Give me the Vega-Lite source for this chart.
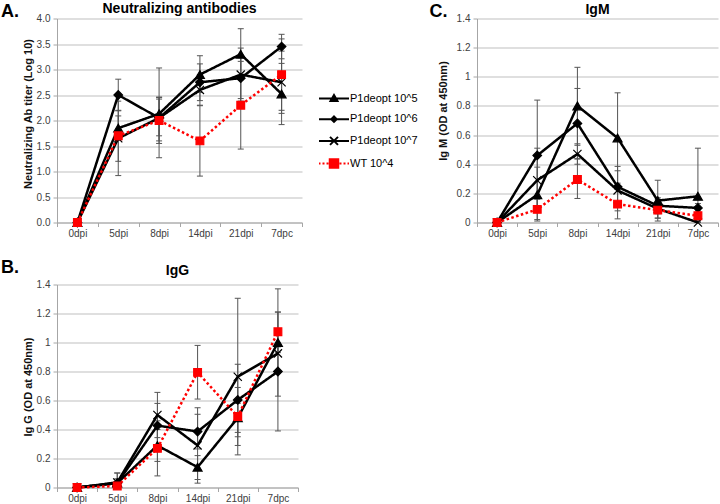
{
  "$schema": "https://vega.github.io/schema/vega-lite/v6.json",
  "padding": {"top": 1.5, "left": 0, "right": 0, "bottom": 0},
  "background": "white",
  "config": {
    "font": "Liberation Sans",
    "view": {"stroke": null},
    "axis": {"labelFont": "Liberation Sans", "labelFontSize": 10, "labelColor": "#404040", "titleFont": "Liberation Sans", "titleFontSize": 11, "titleFontWeight": "bold", "titleColor": "#111111", "domainColor": "#a6a6a6", "tickColor": "#a6a6a6", "tickSize": 4, "gridColor": "#bfbfbf", "gridWidth": 1},
    "axisX": {"grid": false, "labelAngle": 0, "labelPadding": 2},
    "axisY": {"grid": true, "labelPadding": 3, "titlePadding": 3},
    "title": {"font": "Liberation Sans", "fontSize": 14, "fontWeight": "bold", "color": "#000000"},
    "legend": {"labelFont": "Liberation Sans", "labelFontSize": 11, "labelColor": "#000000", "labelLimit": 200}
  },
  "datasets": {
    "neut": [
      {"day": "0dpi", "series": "P1deopt 10^5", "value": 0, "lo": null, "hi": null},
      {"day": "5dpi", "series": "P1deopt 10^5", "value": 1.85, "lo": 1.61, "hi": 2.09},
      {"day": "8dpi", "series": "P1deopt 10^5", "value": 2.13, "lo": 1.27, "hi": 3.03},
      {"day": "14dpi", "series": "P1deopt 10^5", "value": 2.9, "lo": 2.55, "hi": 3.27},
      {"day": "21dpi", "series": "P1deopt 10^5", "value": 3.3, "lo": 2.8, "hi": 3.8},
      {"day": "7dpc", "series": "P1deopt 10^5", "value": 2.52, "lo": 1.92, "hi": 3.12},
      {"day": "0dpi", "series": "P1deopt 10^6", "value": 0, "lo": null, "hi": null},
      {"day": "5dpi", "series": "P1deopt 10^6", "value": 2.5, "lo": 2.19, "hi": 2.81},
      {"day": "8dpi", "series": "P1deopt 10^6", "value": 2.05, "lo": 1.7, "hi": 2.42},
      {"day": "14dpi", "series": "P1deopt 10^6", "value": 2.75, "lo": 2.39, "hi": 3.11},
      {"day": "21dpi", "series": "P1deopt 10^6", "value": 2.83, "lo": 2.43, "hi": 3.23},
      {"day": "7dpc", "series": "P1deopt 10^6", "value": 3.45, "lo": 3.21, "hi": 3.69},
      {"day": "0dpi", "series": "P1deopt 10^7", "value": 0, "lo": null, "hi": null},
      {"day": "5dpi", "series": "P1deopt 10^7", "value": 1.65, "lo": 0.92, "hi": 2.38},
      {"day": "8dpi", "series": "P1deopt 10^7", "value": 2.05, "lo": 1.6, "hi": 2.46},
      {"day": "14dpi", "series": "P1deopt 10^7", "value": 2.6, "lo": 2.3, "hi": 2.9},
      {"day": "21dpi", "series": "P1deopt 10^7", "value": 2.9, "lo": 2.38, "hi": 3.42},
      {"day": "7dpc", "series": "P1deopt 10^7", "value": 2.75, "lo": 2.14, "hi": 3.36},
      {"day": "0dpi", "series": "WT 10^4", "value": 0, "lo": null, "hi": null},
      {"day": "5dpi", "series": "WT 10^4", "value": 1.7, "lo": 1.2, "hi": 2.2},
      {"day": "8dpi", "series": "WT 10^4", "value": 2.0, "lo": 1.55, "hi": 2.45},
      {"day": "14dpi", "series": "WT 10^4", "value": 1.6, "lo": 0.91, "hi": 2.29},
      {"day": "21dpi", "series": "WT 10^4", "value": 2.3, "lo": 1.44, "hi": 3.16},
      {"day": "7dpc", "series": "WT 10^4", "value": 2.9, "lo": 2.2, "hi": 3.6}
    ],
    "igm": [
      {"day": "0dpi", "series": "P1deopt 10^5", "value": 0, "lo": null, "hi": null},
      {"day": "5dpi", "series": "P1deopt 10^5", "value": 0.19, "lo": 0.01, "hi": 0.38},
      {"day": "8dpi", "series": "P1deopt 10^5", "value": 0.8, "lo": 0.53, "hi": 1.065},
      {"day": "14dpi", "series": "P1deopt 10^5", "value": 0.58, "lo": 0.27, "hi": 0.89},
      {"day": "21dpi", "series": "P1deopt 10^5", "value": 0.15, "lo": 0.01, "hi": 0.29},
      {"day": "7dpc", "series": "P1deopt 10^5", "value": 0.18, "lo": 0.0, "hi": 0.51},
      {"day": "0dpi", "series": "P1deopt 10^6", "value": 0, "lo": null, "hi": null},
      {"day": "5dpi", "series": "P1deopt 10^6", "value": 0.46, "lo": 0.08, "hi": 0.84},
      {"day": "8dpi", "series": "P1deopt 10^6", "value": 0.68, "lo": 0.44, "hi": 0.92},
      {"day": "14dpi", "series": "P1deopt 10^6", "value": 0.245, "lo": 0.105, "hi": 0.385},
      {"day": "21dpi", "series": "P1deopt 10^6", "value": 0.115, "lo": 0.06, "hi": 0.17},
      {"day": "7dpc", "series": "P1deopt 10^6", "value": 0.1, "lo": 0.07, "hi": 0.13},
      {"day": "0dpi", "series": "P1deopt 10^7", "value": 0, "lo": null, "hi": null},
      {"day": "5dpi", "series": "P1deopt 10^7", "value": 0.29, "lo": 0.07, "hi": 0.51},
      {"day": "8dpi", "series": "P1deopt 10^7", "value": 0.47, "lo": 0.4, "hi": 0.54},
      {"day": "14dpi", "series": "P1deopt 10^7", "value": 0.22, "lo": 0.08, "hi": 0.355},
      {"day": "21dpi", "series": "P1deopt 10^7", "value": 0.095, "lo": 0.03, "hi": 0.16},
      {"day": "7dpc", "series": "P1deopt 10^7", "value": 0.0, "lo": 0.0, "hi": 0.01},
      {"day": "0dpi", "series": "WT 10^4", "value": 0, "lo": null, "hi": null},
      {"day": "5dpi", "series": "WT 10^4", "value": 0.09, "lo": 0.02, "hi": 0.16},
      {"day": "8dpi", "series": "WT 10^4", "value": 0.295, "lo": 0.165, "hi": 0.435},
      {"day": "14dpi", "series": "WT 10^4", "value": 0.126, "lo": 0.025, "hi": 0.226},
      {"day": "21dpi", "series": "WT 10^4", "value": 0.085, "lo": 0.03, "hi": 0.14},
      {"day": "7dpc", "series": "WT 10^4", "value": 0.046, "lo": 0.01, "hi": 0.08}
    ],
    "igg": [
      {"day": "0dpi", "series": "P1deopt 10^5", "value": 0, "lo": null, "hi": null},
      {"day": "5dpi", "series": "P1deopt 10^5", "value": 0.03, "lo": 0.0, "hi": 0.1},
      {"day": "8dpi", "series": "P1deopt 10^5", "value": 0.29, "lo": 0.18, "hi": 0.4},
      {"day": "14dpi", "series": "P1deopt 10^5", "value": 0.14, "lo": 0.055, "hi": 0.22},
      {"day": "21dpi", "series": "P1deopt 10^5", "value": 0.48, "lo": 0.38, "hi": 0.58},
      {"day": "7dpc", "series": "P1deopt 10^5", "value": 1.0, "lo": 0.79, "hi": 1.21},
      {"day": "0dpi", "series": "P1deopt 10^6", "value": 0, "lo": null, "hi": null},
      {"day": "5dpi", "series": "P1deopt 10^6", "value": 0.03, "lo": 0.0, "hi": 0.06},
      {"day": "8dpi", "series": "P1deopt 10^6", "value": 0.427, "lo": 0.28, "hi": 0.58},
      {"day": "14dpi", "series": "P1deopt 10^6", "value": 0.386, "lo": 0.266, "hi": 0.505},
      {"day": "21dpi", "series": "P1deopt 10^6", "value": 0.604, "lo": 0.35, "hi": 0.85},
      {"day": "7dpc", "series": "P1deopt 10^6", "value": 0.8, "lo": 0.63, "hi": 0.97},
      {"day": "0dpi", "series": "P1deopt 10^7", "value": 0, "lo": null, "hi": null},
      {"day": "5dpi", "series": "P1deopt 10^7", "value": 0.035, "lo": 0.0, "hi": 0.1},
      {"day": "8dpi", "series": "P1deopt 10^7", "value": 0.5, "lo": 0.344, "hi": 0.656},
      {"day": "14dpi", "series": "P1deopt 10^7", "value": 0.29, "lo": 0.03, "hi": 0.55},
      {"day": "21dpi", "series": "P1deopt 10^7", "value": 0.764, "lo": 0.225, "hi": 1.305},
      {"day": "7dpc", "series": "P1deopt 10^7", "value": 0.925, "lo": 0.39, "hi": 1.37},
      {"day": "0dpi", "series": "WT 10^4", "value": 0, "lo": null, "hi": null},
      {"day": "5dpi", "series": "WT 10^4", "value": 0.01, "lo": 0.0, "hi": 0.03},
      {"day": "8dpi", "series": "WT 10^4", "value": 0.27, "lo": 0.08, "hi": 0.46},
      {"day": "14dpi", "series": "WT 10^4", "value": 0.794, "lo": 0.61, "hi": 0.98},
      {"day": "21dpi", "series": "WT 10^4", "value": 0.489, "lo": 0.29, "hi": 0.69},
      {"day": "7dpc", "series": "WT 10^4", "value": 1.074, "lo": 0.93, "hi": 1.21}
    ]
  },
  "resolve": {"scale": {"color": "independent"}},
  "spacing": 19,
  "vconcat": [
    {
      "spacing": 11,
      "resolve": {"scale": {"color": "independent"}},
      "hconcat": [
        {
          "width": 245,
          "height": 204,
          "title": {"text": "Neutralizing antibodies", "offset": -13.5},
          "data": {"name": "neut"},
          "encoding": {
            "x": {"field": "day", "type": "ordinal", "sort": ["0dpi", "5dpi", "8dpi", "14dpi", "21dpi", "7dpc"], "scale": {"type": "band", "paddingInner": 0, "paddingOuter": 0},
              "axis": {"title": "A.", "tickBand": "extent", "titleX": -56.5, "titleY": -220, "titleAngle": 0, "titleAlign": "left", "titleBaseline": "top", "titleFontSize": 18, "titleFontWeight": "bold", "titleColor": "#000000"}}
          },
          "layer": [
            {"mark": {"type": "rule", "color": "#555555", "strokeWidth": 1},
             "encoding": {"y": {"field": "lo", "type": "quantitative", "scale": {"domain": [0, 4], "nice": false}, "axis": {"title": "Neutralizing Ab titer (Log 10)", "titleX": -24, "titleY": 95, "values": [0, 0.5, 1, 1.5, 2, 2.5, 3, 3.5, 4], "format": ".1f"}}, "y2": {"field": "hi"}}},
            {"mark": {"type": "tick", "color": "#555555", "size": 6, "thickness": 1, "opacity": 1},
             "encoding": {"y": {"field": "hi", "type": "quantitative", "scale": {"domain": [0, 4], "nice": false}, "axis": {"title": "Neutralizing Ab titer (Log 10)", "titleX": -24, "titleY": 95, "values": [0, 0.5, 1, 1.5, 2, 2.5, 3, 3.5, 4], "format": ".1f"}}}},
            {"mark": {"type": "tick", "color": "#555555", "size": 6, "thickness": 1, "opacity": 1},
             "encoding": {"y": {"field": "lo", "type": "quantitative", "scale": {"domain": [0, 4], "nice": false}, "axis": {"title": "Neutralizing Ab titer (Log 10)", "titleX": -24, "titleY": 95, "values": [0, 0.5, 1, 1.5, 2, 2.5, 3, 3.5, 4], "format": ".1f"}}}},
            {"mark": {"type": "line", "strokeWidth": 2.5},
             "encoding": {
               "y": {"field": "value", "type": "quantitative", "scale": {"domain": [0, 4], "nice": false}, "axis": {"title": "Neutralizing Ab titer (Log 10)", "titleX": -24, "titleY": 95, "values": [0, 0.5, 1, 1.5, 2, 2.5, 3, 3.5, 4], "format": ".1f"}},
               "color": {"field": "series", "type": "nominal", "scale": {"domain": ["P1deopt 10^5", "P1deopt 10^6", "P1deopt 10^7", "WT 10^4"], "range": ["#000000", "#000000", "#000000", "#ff0000"]},
                 "legend": {"title": null, "orient": "none", "legendX": 274, "legendY": 70.5, "padding": 0, "symbolSize": 289, "symbolStrokeWidth": 2, "rowPadding": 4.7, "labelOffset": 0,
                   "encode": {"symbols": {"update": {
                     "shape": {"signal": "datum.value == 'P1deopt 10^5' ? 'M-2.529,0H1M-0.765,-0.41L-0.355,0.29L-1.175,0.29Z' : datum.value == 'P1deopt 10^6' ? 'M-2.529,0H1M-0.765,-0.32L-0.445,0L-0.765,0.32L-1.085,0Z' : datum.value == 'P1deopt 10^7' ? 'M-2.529,0H1M-1.235,-0.47L-0.295,0.47M-1.235,0.47L-0.295,-0.47' : 'M-2.529,0H-2.353M-2.118,0H-1.882M-1.647,0H-1.412M-0.118,0H0.118M0.353,0H0.588M0.824,0H1M-1.265,-0.5H-0.265V0.5H-1.265Z'"},
                     "fill": {"signal": "datum.value == 'WT 10^4' ? '#ff0000' : '#000000'"},
                     "stroke": {"signal": "datum.value == 'WT 10^4' ? '#ff0000' : '#000000'"},
                     "strokeDash": {"value": []},
                     "strokeWidth": {"value": 2},
                     "opacity": {"value": 1}
                   }}}}},
               "strokeDash": {"field": "series", "type": "nominal", "scale": {"domain": ["P1deopt 10^5", "P1deopt 10^6", "P1deopt 10^7", "WT 10^4"], "range": [[1, 0], [1, 0], [1, 0], [2.5, 2.5]]}, "legend": null}
             }},
            {"mark": {"type": "point", "filled": true, "opacity": 1, "strokeWidth": 1.2},
             "encoding": {
               "y": {"field": "value", "type": "quantitative", "scale": {"domain": [0, 4], "nice": false}, "axis": {"title": "Neutralizing Ab titer (Log 10)", "titleX": -24, "titleY": 95, "values": [0, 0.5, 1, 1.5, 2, 2.5, 3, 3.5, 4], "format": ".1f"}},
               "shape": {"field": "series", "type": "nominal", "scale": {"domain": ["P1deopt 10^5", "P1deopt 10^6", "P1deopt 10^7", "WT 10^4"], "range": ["triangle-up", "diamond", "M-1,-1L1,1M-1,1L1,-1", "square"]}, "legend": null},
               "size": {"field": "series", "type": "nominal", "scale": {"domain": ["P1deopt 10^5", "P1deopt 10^6", "P1deopt 10^7", "WT 10^4"], "range": [80, 60, 64, 100]}, "legend": null},
               "fill": {"field": "series", "type": "nominal", "scale": {"domain": ["P1deopt 10^5", "P1deopt 10^6", "P1deopt 10^7", "WT 10^4"], "range": ["#000000", "#000000", "#000000", "#ff0000"]}, "legend": null},
               "stroke": {"field": "series", "type": "nominal", "scale": {"domain": ["P1deopt 10^5", "P1deopt 10^6", "P1deopt 10^7", "WT 10^4"], "range": ["#000000", "#000000", "#000000", "#ff0000"]}, "legend": null}
             }}
          ]
        },
        {
          "width": 241,
          "height": 204,
          "title": {"text": "IgM", "offset": -14.5},
          "data": {"name": "igm"},
          "encoding": {
            "x": {"field": "day", "type": "ordinal", "sort": ["0dpi", "5dpi", "8dpi", "14dpi", "21dpi", "7dpc"], "scale": {"type": "band", "paddingInner": 0, "paddingOuter": 0},
              "axis": {"title": "C.", "tickBand": "extent", "titleX": -48, "titleY": -220, "titleAngle": 0, "titleAlign": "left", "titleBaseline": "top", "titleFontSize": 18, "titleFontWeight": "bold", "titleColor": "#000000"}}
          },
          "layer": [
            {"mark": {"type": "rule", "color": "#555555", "strokeWidth": 1},
             "encoding": {"y": {"field": "lo", "type": "quantitative", "scale": {"domain": [0, 1.4], "nice": false}, "axis": {"title": "Ig M (OD at 450nm)", "titleX": -29, "titleY": 92, "values": [0, 0.2, 0.4, 0.6, 0.8, 1, 1.2, 1.4], "format": "~g"}}, "y2": {"field": "hi"}}},
            {"mark": {"type": "tick", "color": "#555555", "size": 6, "thickness": 1, "opacity": 1},
             "encoding": {"y": {"field": "hi", "type": "quantitative", "scale": {"domain": [0, 1.4], "nice": false}, "axis": {"title": "Ig M (OD at 450nm)", "titleX": -29, "titleY": 92, "values": [0, 0.2, 0.4, 0.6, 0.8, 1, 1.2, 1.4], "format": "~g"}}}},
            {"mark": {"type": "tick", "color": "#555555", "size": 6, "thickness": 1, "opacity": 1},
             "encoding": {"y": {"field": "lo", "type": "quantitative", "scale": {"domain": [0, 1.4], "nice": false}, "axis": {"title": "Ig M (OD at 450nm)", "titleX": -29, "titleY": 92, "values": [0, 0.2, 0.4, 0.6, 0.8, 1, 1.2, 1.4], "format": "~g"}}}},
            {"mark": {"type": "line", "strokeWidth": 2.5},
             "encoding": {
               "y": {"field": "value", "type": "quantitative", "scale": {"domain": [0, 1.4], "nice": false}, "axis": {"title": "Ig M (OD at 450nm)", "titleX": -29, "titleY": 92, "values": [0, 0.2, 0.4, 0.6, 0.8, 1, 1.2, 1.4], "format": "~g"}},
               "color": {"field": "series", "type": "nominal", "scale": {"domain": ["P1deopt 10^5", "P1deopt 10^6", "P1deopt 10^7", "WT 10^4"], "range": ["#000000", "#000000", "#000000", "#ff0000"]}, "legend": null},
               "strokeDash": {"field": "series", "type": "nominal", "scale": {"domain": ["P1deopt 10^5", "P1deopt 10^6", "P1deopt 10^7", "WT 10^4"], "range": [[1, 0], [1, 0], [1, 0], [2.5, 2.5]]}, "legend": null}
             }},
            {"mark": {"type": "point", "filled": true, "opacity": 1, "strokeWidth": 1.2},
             "encoding": {
               "y": {"field": "value", "type": "quantitative", "scale": {"domain": [0, 1.4], "nice": false}, "axis": {"title": "Ig M (OD at 450nm)", "titleX": -29, "titleY": 92, "values": [0, 0.2, 0.4, 0.6, 0.8, 1, 1.2, 1.4], "format": "~g"}},
               "shape": {"field": "series", "type": "nominal", "scale": {"domain": ["P1deopt 10^5", "P1deopt 10^6", "P1deopt 10^7", "WT 10^4"], "range": ["triangle-up", "diamond", "M-1,-1L1,1M-1,1L1,-1", "square"]}, "legend": null},
               "size": {"field": "series", "type": "nominal", "scale": {"domain": ["P1deopt 10^5", "P1deopt 10^6", "P1deopt 10^7", "WT 10^4"], "range": [80, 60, 64, 100]}, "legend": null},
               "fill": {"field": "series", "type": "nominal", "scale": {"domain": ["P1deopt 10^5", "P1deopt 10^6", "P1deopt 10^7", "WT 10^4"], "range": ["#000000", "#000000", "#000000", "#ff0000"]}, "legend": null},
               "stroke": {"field": "series", "type": "nominal", "scale": {"domain": ["P1deopt 10^5", "P1deopt 10^6", "P1deopt 10^7", "WT 10^4"], "range": ["#000000", "#000000", "#000000", "#ff0000"]}, "legend": null}
             }}
          ]
        }
      ]
    },
    {
      "width": 241,
      "height": 203,
      "title": {"text": "IgG", "offset": -19.5},
      "data": {"name": "igg"},
      "encoding": {
        "x": {"field": "day", "type": "ordinal", "sort": ["0dpi", "5dpi", "8dpi", "14dpi", "21dpi", "7dpc"], "scale": {"type": "band", "paddingInner": 0, "paddingOuter": 0},
          "axis": {"title": "B.", "tickBand": "extent", "titleX": -56.5, "titleY": -229.5, "titleAngle": 0, "titleAlign": "left", "titleBaseline": "top", "titleFontSize": 18, "titleFontWeight": "bold", "titleColor": "#000000"}}
      },
      "layer": [
        {"mark": {"type": "rule", "color": "#555555", "strokeWidth": 1},
         "encoding": {"y": {"field": "lo", "type": "quantitative", "scale": {"domain": [0, 1.4], "nice": false}, "axis": {"title": "Ig G (OD at 450nm)", "titleX": -24, "titleY": 102, "values": [0, 0.2, 0.4, 0.6, 0.8, 1, 1.2, 1.4], "format": "~g"}}, "y2": {"field": "hi"}}},
        {"mark": {"type": "tick", "color": "#555555", "size": 6, "thickness": 1, "opacity": 1},
         "encoding": {"y": {"field": "hi", "type": "quantitative", "scale": {"domain": [0, 1.4], "nice": false}, "axis": {"title": "Ig G (OD at 450nm)", "titleX": -24, "titleY": 102, "values": [0, 0.2, 0.4, 0.6, 0.8, 1, 1.2, 1.4], "format": "~g"}}}},
        {"mark": {"type": "tick", "color": "#555555", "size": 6, "thickness": 1, "opacity": 1},
         "encoding": {"y": {"field": "lo", "type": "quantitative", "scale": {"domain": [0, 1.4], "nice": false}, "axis": {"title": "Ig G (OD at 450nm)", "titleX": -24, "titleY": 102, "values": [0, 0.2, 0.4, 0.6, 0.8, 1, 1.2, 1.4], "format": "~g"}}}},
        {"mark": {"type": "line", "strokeWidth": 2.5},
         "encoding": {
           "y": {"field": "value", "type": "quantitative", "scale": {"domain": [0, 1.4], "nice": false}, "axis": {"title": "Ig G (OD at 450nm)", "titleX": -24, "titleY": 102, "values": [0, 0.2, 0.4, 0.6, 0.8, 1, 1.2, 1.4], "format": "~g"}},
           "color": {"field": "series", "type": "nominal", "scale": {"domain": ["P1deopt 10^5", "P1deopt 10^6", "P1deopt 10^7", "WT 10^4"], "range": ["#000000", "#000000", "#000000", "#ff0000"]}, "legend": null},
           "strokeDash": {"field": "series", "type": "nominal", "scale": {"domain": ["P1deopt 10^5", "P1deopt 10^6", "P1deopt 10^7", "WT 10^4"], "range": [[1, 0], [1, 0], [1, 0], [2.5, 2.5]]}, "legend": null}
         }},
        {"mark": {"type": "point", "filled": true, "opacity": 1, "strokeWidth": 1.2},
         "encoding": {
           "y": {"field": "value", "type": "quantitative", "scale": {"domain": [0, 1.4], "nice": false}, "axis": {"title": "Ig G (OD at 450nm)", "titleX": -24, "titleY": 102, "values": [0, 0.2, 0.4, 0.6, 0.8, 1, 1.2, 1.4], "format": "~g"}},
           "shape": {"field": "series", "type": "nominal", "scale": {"domain": ["P1deopt 10^5", "P1deopt 10^6", "P1deopt 10^7", "WT 10^4"], "range": ["triangle-up", "diamond", "M-1,-1L1,1M-1,1L1,-1", "square"]}, "legend": null},
           "size": {"field": "series", "type": "nominal", "scale": {"domain": ["P1deopt 10^5", "P1deopt 10^6", "P1deopt 10^7", "WT 10^4"], "range": [80, 60, 64, 100]}, "legend": null},
           "fill": {"field": "series", "type": "nominal", "scale": {"domain": ["P1deopt 10^5", "P1deopt 10^6", "P1deopt 10^7", "WT 10^4"], "range": ["#000000", "#000000", "#000000", "#ff0000"]}, "legend": null},
           "stroke": {"field": "series", "type": "nominal", "scale": {"domain": ["P1deopt 10^5", "P1deopt 10^6", "P1deopt 10^7", "WT 10^4"], "range": ["#000000", "#000000", "#000000", "#ff0000"]}, "legend": null}
         }}
      ]
    }
  ]
}
